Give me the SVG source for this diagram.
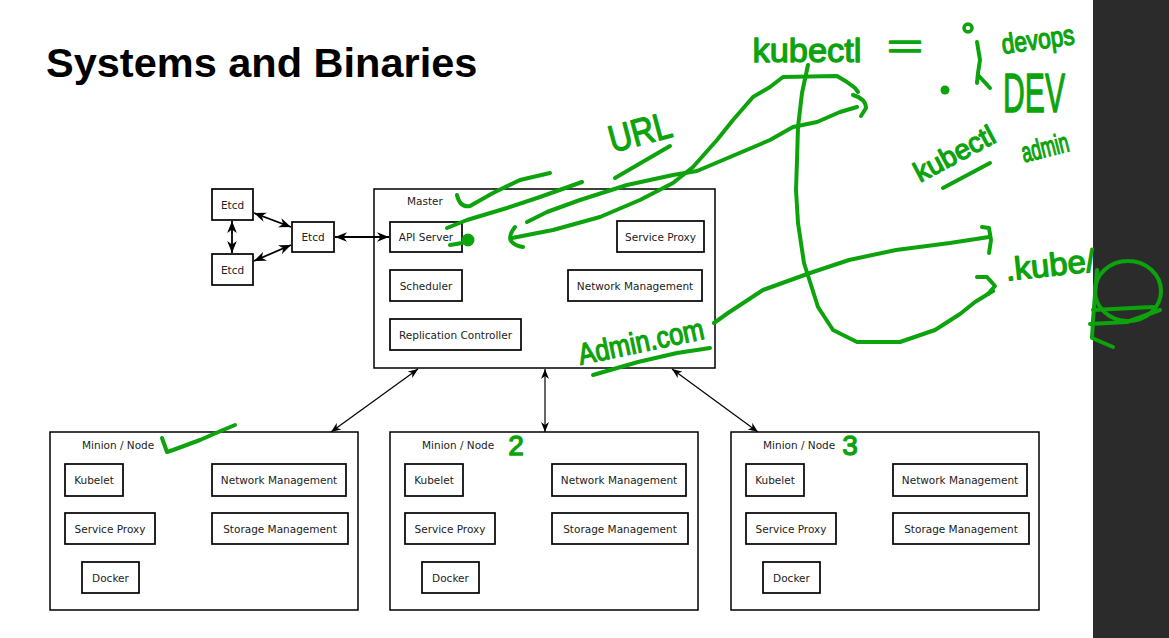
<svg xmlns="http://www.w3.org/2000/svg" width="1169" height="638" viewBox="0 0 1169 638">
<defs>
<marker id="ah" viewBox="0 0 10 8" refX="10" refY="4" markerWidth="10" markerHeight="8" markerUnits="userSpaceOnUse" orient="auto-start-reverse">
<path d="M0,0 L10,4 L0,8 L3,4 z" fill="#000"/>
</marker>
<marker id="ahb" viewBox="0 0 10 8" refX="10" refY="4" markerWidth="12" markerHeight="10" markerUnits="userSpaceOnUse" orient="auto-start-reverse">
<path d="M0,0 L10,4 L0,8 L3,4 z" fill="#000"/>
</marker>
<style>
.bx{fill:#fff;stroke:#000;stroke-width:1.7}
.ob{fill:#fff;stroke:#000;stroke-width:1.5}
.t{font-family:"DejaVu Sans",sans-serif;font-size:10.5px;fill:#222;text-anchor:middle}
.tl{font-family:"DejaVu Sans",sans-serif;font-size:10.5px;fill:#222}
.cn{fill:none;stroke:#000;stroke-width:1.2;marker-start:url(#ah);marker-end:url(#ah)}
.ce{fill:none;stroke:#000;stroke-width:1.8;marker-start:url(#ahb);marker-end:url(#ahb)}
.g{fill:none;stroke:#0ca30c;stroke-width:4;stroke-linecap:round;stroke-linejoin:round}
.gt{font-family:"Liberation Sans",sans-serif;fill:#0ca30c;stroke:#0ca30c;stroke-width:1.3;stroke-linejoin:round;text-anchor:middle}
</style>
</defs>
<rect x="0" y="0" width="1169" height="638" fill="#fff"/>
<rect x="1093" y="0" width="76" height="638" fill="#2b2b2b"/>
<text x="46" y="77" font-family="Liberation Sans, Arial, sans-serif" font-weight="bold" font-size="41.5" fill="#000">Systems and Binaries</text>

<g id="etcd1"><rect class="bx" x="212" y="189" width="41" height="31"/><text class="t" x="232.5" y="208.5">Etcd</text></g>
<g id="etcd2"><rect class="bx" x="212" y="254" width="41" height="31"/><text class="t" x="232.5" y="273.5">Etcd</text></g>
<g id="etcd3"><rect class="bx" x="292" y="222" width="42" height="30"/><text class="t" x="313" y="241">Etcd</text></g>

<g id="master">
<rect class="ob" x="374" y="189" width="341" height="179"/>
<text class="tl" x="407" y="205">Master</text>
<rect class="bx" x="390" y="222" width="72" height="30"/><text class="t" x="426" y="241">API Server</text>
<rect class="bx" x="390" y="270" width="72" height="31"/><text class="t" x="426" y="289.5">Scheduler</text>
<rect class="bx" x="390" y="319" width="131" height="31"/><text class="t" x="455.5" y="338.5">Replication Controller</text>
<rect class="bx" x="617" y="221" width="87" height="31"/><text class="t" x="660.5" y="240.5">Service Proxy</text>
<rect class="bx" x="568" y="270" width="134" height="31"/><text class="t" x="635" y="289.5">Network Management</text>
</g>

<g id="minion1">
<rect class="ob" x="50" y="432" width="308" height="178"/>
<text class="tl" x="82" y="449">Minion / Node</text>
<rect class="bx" x="65" y="464" width="58" height="32"/><text class="t" x="94" y="484">Kubelet</text>
<rect class="bx" x="65" y="513" width="90" height="31"/><text class="t" x="110" y="532.5">Service Proxy</text>
<rect class="bx" x="82" y="562" width="57" height="31"/><text class="t" x="110.5" y="581.5">Docker</text>
<rect class="bx" x="212" y="464" width="134" height="32"/><text class="t" x="279" y="484">Network Management</text>
<rect class="bx" x="212" y="513" width="136" height="31"/><text class="t" x="280" y="532.5">Storage Management</text>
</g>
<g id="minion2" transform="translate(340,0)">
<rect class="ob" x="50" y="432" width="308" height="178"/>
<text class="tl" x="82" y="449">Minion / Node</text>
<rect class="bx" x="65" y="464" width="58" height="32"/><text class="t" x="94" y="484">Kubelet</text>
<rect class="bx" x="65" y="513" width="90" height="31"/><text class="t" x="110" y="532.5">Service Proxy</text>
<rect class="bx" x="82" y="562" width="57" height="31"/><text class="t" x="110.5" y="581.5">Docker</text>
<rect class="bx" x="212" y="464" width="134" height="32"/><text class="t" x="279" y="484">Network Management</text>
<rect class="bx" x="212" y="513" width="136" height="31"/><text class="t" x="280" y="532.5">Storage Management</text>
</g>
<g id="minion3" transform="translate(681,0)">
<rect class="ob" x="50" y="432" width="308" height="178"/>
<text class="tl" x="82" y="449">Minion / Node</text>
<rect class="bx" x="65" y="464" width="58" height="32"/><text class="t" x="94" y="484">Kubelet</text>
<rect class="bx" x="65" y="513" width="90" height="31"/><text class="t" x="110" y="532.5">Service Proxy</text>
<rect class="bx" x="82" y="562" width="57" height="31"/><text class="t" x="110.5" y="581.5">Docker</text>
<rect class="bx" x="212" y="464" width="134" height="32"/><text class="t" x="279" y="484">Network Management</text>
<rect class="bx" x="212" y="513" width="136" height="31"/><text class="t" x="280" y="532.5">Storage Management</text>
</g>

<g id="connectors">
<path class="ce" d="M335,237 L389,237"/>
<path class="ce" d="M254,213 L291,227"/>
<path class="ce" d="M254,261 L291,245"/>
<path class="ce" d="M232,221 L232,253"/>
<path class="cn" d="M418,369 L331,432"/>
<path class="cn" d="M545,369 L545,432"/>
<path class="cn" d="M672,369 L758,432"/>
</g>

<g id="annotations">
<path class="g" d="M162,438 L167,452 L173,450 L200,440 L223,430 L235,425"/>
<path class="g" d="M457,195 Q460,208 470,206 L493,193 L520,180 L550,173"/>
<path class="g" d="M447,228 L467,220 L507,208 L540,197 L582,182"/>
<circle cx="468" cy="240" r="6.5" fill="#0ca30c"/>
<path class="g" d="M450,245 L462,243"/>
<path class="g" d="M527,222 L547,212 L580,200 L627,185 L673,175 L697,171 L723,160 L770,140 L793,127 L817,122 L840,112 L857,107"/>
<path class="g" d="M853,95 Q866,99 866,108 L861,116"/>
<path class="g" d="M515,227 Q508,236 511,241 Q515,246 523,247"/>
<path class="g" d="M512,238 L553,230 L600,217 L640,200 L673,183 L693,167 L717,140 L733,120 L753,97 L770,87 L783,77 L837,76 L847,82 L855,88 L858,92"/>
<path class="g" d="M615,178 L670,146"/>
<path class="g" d="M808,65 L802,93 L798,127 L797,160 L796,190 L798,223 L804,263 L818,307 L833,330 L857,342 L900,342 L935,330 L960,314 L975,302 L993,291"/>
<path class="g" d="M977,277 L987,277 L995,286 L988,294"/>
<path class="g" d="M714,323 L728,313 L763,290 L810,273 L849,260 L896,250 L950,243 L989,237"/>
<path class="g" d="M982,227 L989,228 L991,240 L989,253"/>
<path class="g" d="M593,375 L638,362 L677,353 L710,348"/>
<circle cx="968" cy="28" r="4" fill="none" stroke="#0ca30c" stroke-width="3.5"/>
<path class="g" d="M977,42 L980,60 L978,73 L977,83 M979,76 L990,88"/>
<circle cx="945" cy="90" r="4.5" fill="#0ca30c"/>
<path class="g" d="M943,188 L990,163"/>
<ellipse cx="1128" cy="291" rx="33" ry="30" fill="none" stroke="#0ca30c" stroke-width="4"/>
<path class="g" d="M1097,270 L1093,320 L1092,338 L1113,347"/>
<path class="g" d="M1093,310 L1153,307"/>
<path class="g" d="M1090,324 L1127,322 L1160,310"/>

<text class="gt" x="807" y="62" font-size="34" textLength="109" lengthAdjust="spacingAndGlyphs">kubectl</text>
<text class="gt" x="905" y="58" font-size="34" textLength="36" lengthAdjust="spacingAndGlyphs">=</text>
<text class="gt" x="1038" y="49" font-size="28" textLength="73" lengthAdjust="spacingAndGlyphs" transform="rotate(-8 1038 40)">devops</text>
<text class="gt" x="1034" y="112" font-size="56" textLength="62" lengthAdjust="spacingAndGlyphs">DEV</text>
<text class="gt" x="955" y="163" font-size="28" textLength="88" lengthAdjust="spacingAndGlyphs" transform="rotate(-28 955 155)">kubectl</text>
<text class="gt" x="1045" y="157" font-size="28" textLength="48" lengthAdjust="spacingAndGlyphs" transform="rotate(-14 1045 148)">admin</text>
<text class="gt" x="640" y="145" font-size="38" textLength="64" lengthAdjust="spacingAndGlyphs" transform="rotate(-15 640 132)">URL</text>
<text class="gt" x="641" y="352" font-size="30" textLength="128" lengthAdjust="spacingAndGlyphs" transform="rotate(-12 641 342)">Admin.com</text>
<text class="gt" x="1050" y="276" font-size="32" textLength="90" lengthAdjust="spacingAndGlyphs" transform="rotate(-6 1050 265)">.kube/</text>
<text class="gt" x="516" y="455" font-size="28">2</text>
<text class="gt" x="850" y="455" font-size="28">3</text>
</g>
</svg>
